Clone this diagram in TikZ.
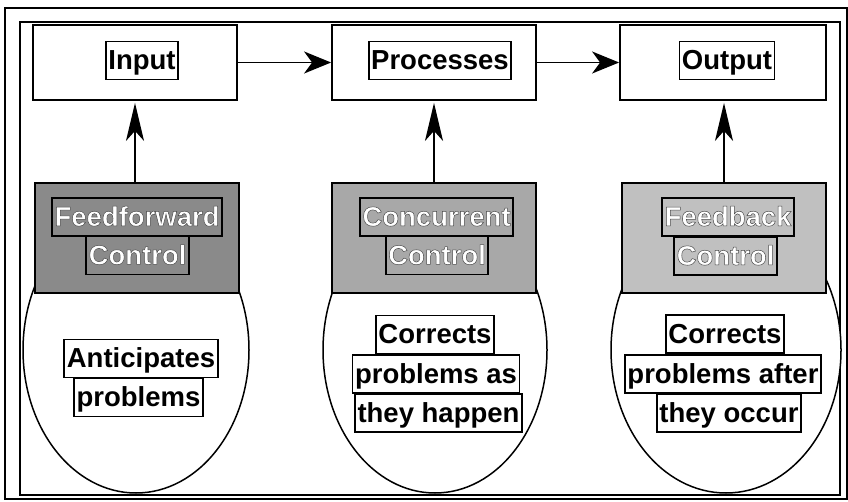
\documentclass[tikz,border=0pt]{standalone}
\usepackage{fontspec}
\setmainfont{Liberation Sans}
\usetikzlibrary{arrows.meta,shapes.geometric}
\definecolor{ffgray}{HTML}{8A8A8A}
\definecolor{ccgray}{HTML}{A8A8A8}
\definecolor{fbgray}{HTML}{C0C0C0}
\newcommand\outlined[1]{\special{pdf:literal direct 0.3 0.3 0.3 RG 0.5 w 2 Tr}#1\special{pdf:literal direct 0 Tr}}
\begin{document}
\begin{tikzpicture}[x=1pt,y=-1pt,
  frame/.style={draw, line width=1.8pt},
  topbox/.style={draw, line width=1.8pt, fill=white, minimum width=204pt, minimum height=75pt, inner sep=0pt},
  ctrlbox/.style={draw, line width=1.8pt, minimum width=204pt, minimum height=110pt, inner sep=0pt},
  oval/.style={ellipse, draw, line width=1.5pt, fill=white, inner sep=0pt},
  lbl/.style={draw, line width=1.8pt, inner xsep=2.5pt, inner ysep=0pt, minimum height=38pt,
    text height=21pt, text depth=3pt, font=\fontsize{27.5}{27.5}\selectfont\bfseries},
  wlbl/.style={lbl, text=white},
  harrow/.style={-{Stealth[length=27pt,width=22pt,inset=8pt]}, line width=1.8pt},
  varrow/.style={-{Stealth[length=38pt,width=18pt,inset=10pt]}, line width=1.8pt, shorten >=2pt}
]
\useasboundingbox (0,0) rectangle (848,502);
\fill[white] (0,0) rectangle (848,502);
% frames
\draw[line width=1.3pt] (5,8) rectangle (847,499);
\draw[frame] (20,22) rectangle (840,495);
% top boxes
\node[topbox] (input) at (135,62.5) {};
\node[topbox] (proc) at (434,62.5) {};
\node[topbox, minimum width=206pt] (output) at (723,62.5) {};
\node[lbl] (inputl) at (142,60.5) {Input};
\node[lbl] (procl) at (440,60.5) {Processes};
\node[lbl] (outputl) at (727,60.5) {Output};
% horizontal arrows
\draw[harrow] (input.east) -- (proc.west);
\draw[harrow] (proc.east) -- (output.west);
% ellipses
\node[oval, minimum width=226pt, minimum height=286pt] (e1) at (136,350) {};
\node[oval, minimum width=224pt, minimum height=286pt] (e2) at (435,350) {};
\node[oval, minimum width=230pt, minimum height=286pt] (e3) at (726,350) {};
% control boxes
\node[ctrlbox, fill=ffgray] (ff) at (137,238) {};
\node[ctrlbox, fill=ccgray] (cc) at (434,238) {};
\node[ctrlbox, fill=fbgray] (fb) at (724,238) {};
% vertical arrows
\draw[varrow] (ff.north -| input.south) -- (input.south);
\draw[varrow] (cc.north) -- (cc.north |- proc.south);
\draw[varrow] (fb.north) -- (fb.north |- output.south);
% control labels
\node[wlbl, fill=ffgray] (ff1) at (137,217) {\outlined{Feedforward}};
\node[wlbl, fill=ffgray] (ff2) at (137.5,255.5) {\outlined{Control}};
\node[wlbl, fill=ccgray] (cc1) at (436.5,217) {\outlined{Concurrent}};
\node[wlbl, fill=ccgray] (cc2) at (437,255.5) {\outlined{Control}};
\node[wlbl, fill=fbgray] (fb1) at (728,217) {\outlined{Feedback}};
\node[wlbl, fill=fbgray] (fb2) at (725.5,256) {\outlined{Control}};
% ellipse texts
\node[lbl, fill=white] (t11) at (141,358.5) {Anticipates};
\node[lbl, fill=white] (t12) at (138.5,397.5) {problems};
\node[lbl, fill=white] (t21) at (435,334.5) {Corrects};
\node[lbl, fill=white] (t22) at (436,374) {problems as};
\node[lbl, fill=white] (t23) at (438.5,413) {they happen};
\node[lbl, fill=white] (t31) at (725,334) {Corrects};
\node[lbl, fill=white] (t32) at (723,374) {problems after};
\node[lbl, fill=white] (t33) at (729,413) {they occur};
\end{tikzpicture}
\end{document}
